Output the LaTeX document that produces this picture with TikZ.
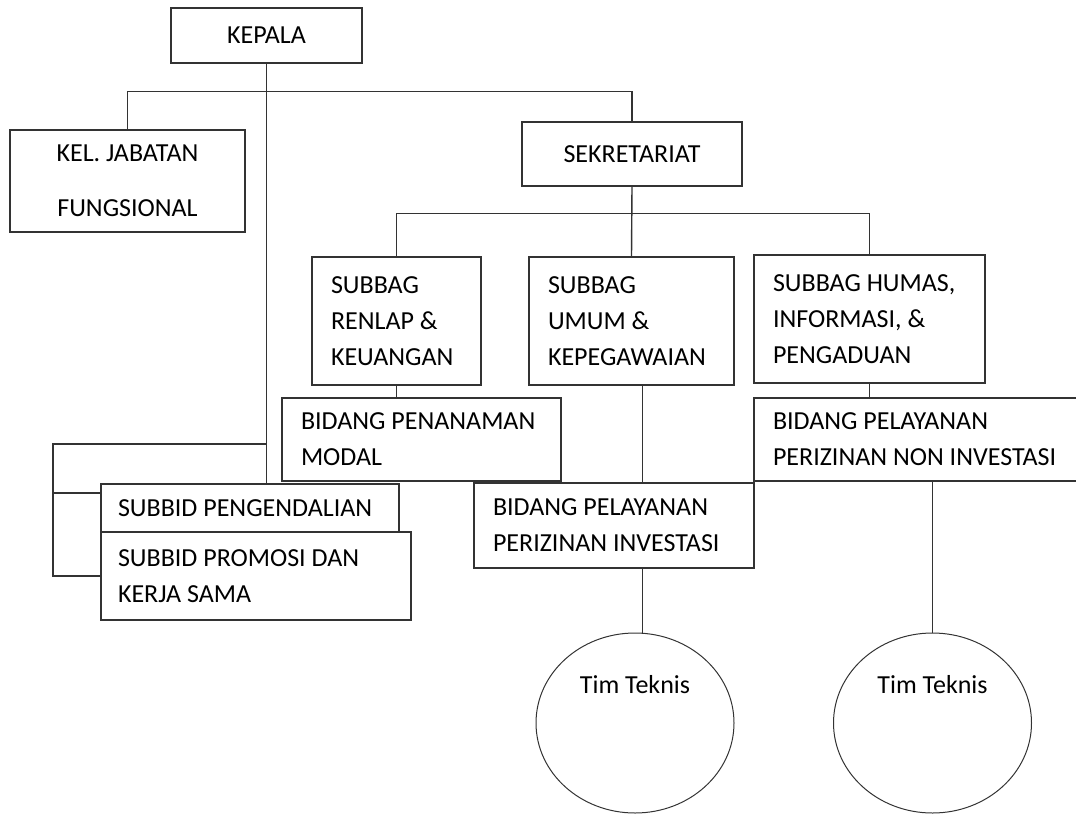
\documentclass[tikz,border=0pt]{standalone}
\usepackage{fontspec}
\setmainfont{Carlito}
\usetikzlibrary{shapes.geometric, calc}
\newcommand{\unitfont}{\fontsize{26}{36}\selectfont}
\begin{document}
\begin{tikzpicture}
    [
        x=1pt, y=-1pt,
        line width=1.4pt,
        color=black!80,
        unit/.style={draw, font=\unitfont, text=black, inner ysep=0pt},
        cunit/.style={unit, align=center},
        lunit/.style={unit, align=flush left, inner xsep=19pt},
        team/.style={ellipse, draw, line width=1pt, minimum width=198pt, minimum height=180pt}
    ]
    \useasboundingbox (0, 0) rectangle (1076, 814);

    \node[cunit, minimum width=191pt, minimum height=55pt] (kepala) at (266.5, 35.5) {KEPALA};
    \node[cunit, minimum width=235pt, minimum height=102pt] (kel) at (127.5, 181) {KEL. JABATAN\\[19pt]FUNGSIONAL};
    \node[cunit, minimum width=220pt, minimum height=64pt] (sek) at (632, 154) {SEKRETARIAT};

    \node[lunit, text width=131pt, minimum height=128pt] (renlap) at (396.5, 321) {SUBBAG\\RENLAP \&\\KEUANGAN};
    \node[lunit, text width=167pt, minimum height=128pt] (umum) at (631.5, 321) {SUBBAG\\UMUM \&\\KEPEGAWAIAN};
    \node[lunit, text width=193pt, minimum height=128pt] (humas) at (869.5, 319) {SUBBAG HUMAS,\\INFORMASI, \&\\PENGADUAN};

    \node[lunit, text width=241pt, minimum height=83pt] (modal) at (421.5, 439.5) {BIDANG PENANAMAN\\MODAL};
    \node[lunit, text width=288pt, minimum height=83pt] (noninv) at (917, 439.5) {BIDANG PELAYANAN\\PERIZINAN NON INVESTASI};
    \node[lunit, text width=242pt, minimum height=85pt] (investasi) at (614, 525.5) {BIDANG PELAYANAN\\PERIZINAN INVESTASI};

    \node[lunit, inner xsep=17pt, text width=264pt, minimum height=48pt] (pengendalian) at (250, 508) {SUBBID PENGENDALIAN};
    \node[lunit, inner xsep=17pt, text width=276pt, minimum height=88pt] (promosi) at (256, 576) {SUBBID PROMOSI DAN\\KERJA SAMA};

    \node[team, label={[font=\unitfont, text=black, anchor=center, yshift=-52pt]north:Tim Teknis}] (tim1) at (635, 723) {};
    \node[team, label={[font=\unitfont, text=black, anchor=center, yshift=-52pt]north:Tim Teknis}] (tim2) at (932.5, 723) {};

    \draw (kepala.south) -- (kepala.south |- pengendalian.north);
    \draw (kel.north) -- ++(0, -38) -| (sek.north);
    \draw (sek.south) -- (umum.north);
    \draw (renlap.north) -- ++(0, -43) -| (humas.north);
    \draw (renlap.south) -- (renlap.south |- modal.north);
    \draw (humas.south) -- (humas.south |- noninv.north);

    \coordinate (invx) at ($(umum.south) + (11, 0)$);
    \draw (invx) -- (invx |- investasi.north);
    \draw (investasi.south -| invx) -- (tim1.north -| invx);
    \draw (noninv.south -| tim2.north) -- (tim2.north);

    \coordinate (brk) at (53, 444);
    \draw (kepala.south |- brk) -- (brk) |- (promosi.west);
    \draw ([yshift=15pt]pengendalian.west) -- ++(-48, 0);
\end{tikzpicture}
\end{document}
